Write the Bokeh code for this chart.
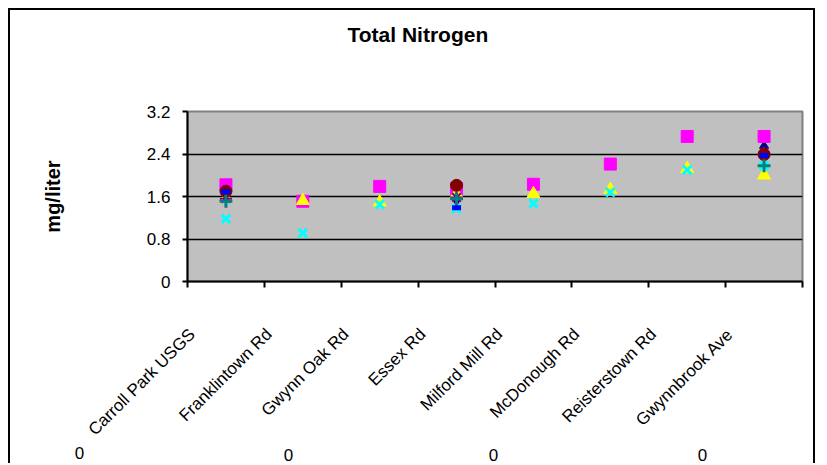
from math import pi
from bokeh.plotting import figure
from bokeh.models import ColumnDataSource, FixedTicker, Range1d, LinearAxis, Label
from bokeh.embed import file_html
from bokeh.resources import INLINE

nan = float("nan")

categories = ["Carroll Park USGS", "Franklintown Rd", "Gwynn Oak Rd", "Essex Rd",
              "Milford Mill Rd", "McDonough Rd", "Reisterstown Rd", "Gwynnbrook Ave"]

series_1 = [1.66, nan, nan, 1.55, nan, nan, nan, 2.52]    # navy diamond
series_2 = [1.82, 1.51, 1.79, 1.75, 1.83, 2.21, 2.73, 2.73]  # magenta square
series_3 = [1.56, 1.52, 1.49, 1.64, 1.65, 1.73, 2.12, 2.00]  # yellow triangle
series_4 = [1.18, 0.91, 1.45, 1.37, 1.47, 1.68, 2.10, 2.18]  # cyan x
series_5 = [1.56, nan, nan, 1.58, nan, nan, nan, 2.43]    # purple star
series_6 = [1.70, nan, nan, 1.81, nan, nan, nan, 2.39]    # dark red circle
series_7 = [1.51, nan, nan, 1.56, nan, nan, nan, 2.18]    # teal plus
series_8 = [1.69, nan, nan, 1.39, nan, nan, nan, 2.37]    # blue dash

y_ticks = [0, 0.8, 1.6, 2.4, 3.2]
y_tick_labels = ["0", "0.8", "1.6", "2.4", "3.2"]
bottom_texts = ["0", "0", "0", "0"]   # partly visible legend texts at the bottom edge

title_text = "Total Nitrogen"
y_title = "mg/liter"

xpos = [i + 0.5 for i in range(len(categories))]
label_shift = -0.44  # rotated labels sit left of the slot centre

p = figure(width=807, height=455, x_range=Range1d(0, len(categories)), y_range=Range1d(0, 3.2),
           output_backend="svg", toolbar_location=None,
           min_border_left=177, min_border_right=15, min_border_top=101, min_border_bottom=184)
p.styles = {"margin-left": "8px", "margin-top": "8px",
            "border-left": "2px solid black", "border-top": "2px solid black",
            "border-right": "2px solid black"}
p.background_fill_color = "#C0C0C0"
p.border_fill_color = "white"
p.outline_line_color = "#808080"
p.outline_line_width = 2

# two empty trailing lines lift the title well above the plot area
p.title.text = title_text + "\n\n"
p.title.align = "left"
p.title.offset = 160
p.title.standoff = 10
p.title.text_line_height = 1.31
p.title.text_font = "Liberation Sans"
p.title.text_font_size = "21px"
p.title.text_font_style = "bold"
p.title.text_color = "black"

p.xgrid.grid_line_color = None
p.ygrid.ticker = FixedTicker(ticks=y_ticks)
p.ygrid.grid_line_color = "black"
p.ygrid.grid_line_width = 1.5

p.yaxis.ticker = FixedTicker(ticks=y_ticks)
p.yaxis.major_label_overrides = {t: l for t, l in zip(y_ticks, y_tick_labels)}
p.yaxis.axis_line_width = 2
p.yaxis.axis_line_color = "black"
p.yaxis.major_tick_line_width = 2
p.yaxis.major_tick_out = 5
p.yaxis.major_tick_in = 0
p.yaxis.minor_tick_line_color = None
p.yaxis.major_label_text_font = "Liberation Sans"
p.yaxis.major_label_text_font_size = "17px"
p.yaxis.major_label_text_color = "black"
p.yaxis.major_label_standoff = 12
p.yaxis.axis_label = y_title
p.yaxis.axis_label_text_font = "Liberation Sans"
p.yaxis.axis_label_text_font_style = "bold"
p.yaxis.axis_label_text_font_size = "20px"
p.yaxis.axis_label_text_color = "black"
p.yaxis.axis_label_standoff = 80

label_ticks = [x + label_shift for x in xpos]
p.xaxis.ticker = FixedTicker(ticks=label_ticks, minor_ticks=list(range(len(categories) + 1)))
p.xaxis.major_label_overrides = {x: c for x, c in zip(label_ticks, categories)}
p.xaxis.major_label_orientation = pi / 4
p.xaxis.axis_line_width = 2
p.xaxis.axis_line_color = "black"
p.xaxis.major_tick_line_color = None
p.xaxis.minor_tick_line_color = "black"
p.xaxis.minor_tick_line_width = 2
p.xaxis.minor_tick_in = 0
p.xaxis.minor_tick_out = 6
p.xaxis.major_label_text_font = "Liberation Sans"
p.xaxis.major_label_text_font_size = "17px"
p.xaxis.major_label_text_color = "black"
p.xaxis.major_label_standoff = 44

src = ColumnDataSource(dict(x=xpos, s1=series_1, s2=series_2, s3=series_3, s4=series_4,
                            s5=series_5, s6=series_6, s7=series_7, s8=series_8))

p.scatter("x", "s1", source=src, marker="diamond", size=13, fill_color="#000080", line_color="#000080")
p.scatter("x", "s2", source=src, marker="square", size=12, fill_color="#FF00FF", line_color="#FF00FF")
p.scatter("x", "s3", source=src, marker="triangle", size=13, fill_color="#FFFF00", line_color="#FFFF00")
p.scatter("x", "s4", source=src, marker="x", size=12, line_color="#00FFFF", line_width=3)
p.scatter("x", "s5", source=src, marker="asterisk", size=12, line_color="#800080", line_width=2)
p.scatter("x", "s6", source=src, marker="circle", size=12, fill_color="#800000", line_color="#800000")
p.scatter("x", "s7", source=src, marker="cross", size=13, line_color="#008080", line_width=3)
p.scatter("x", "s8", source=src, marker="dash", size=9, line_color="#0000FF", line_width=5)

# cut-off legend texts along the bottom edge, placed in page-pixel helper ranges
p.extra_x_ranges = {"page": Range1d(187, 802)}
p.extra_y_ranges = {"page_y": Range1d(281, 111)}
zero_pos = [79, 288, 493, 702]
zero_axis = LinearAxis(x_range_name="page", ticker=FixedTicker(ticks=zero_pos[1:]), bounds=(0, 827),
                       major_label_overrides={z: t for z, t in zip(zero_pos[1:], bottom_texts[1:])},
                       axis_line_color=None, major_tick_line_color=None, minor_tick_line_color=None,
                       major_tick_out=0, major_tick_in=0, major_label_standoff=0,
                       major_label_text_font="Liberation Sans", major_label_text_font_size="17px",
                       major_label_text_color="black")
p.add_layout(zero_axis, "below")

# the first one lies left of the plot area, so it is a label in the left panel
p.add_layout(Label(x=zero_pos[0], y=452, x_range_name="page", y_range_name="page_y",
                   text=bottom_texts[0], text_align="center", text_baseline="alphabetic",
                   text_font="Liberation Sans", text_font_size="17px", text_color="black"), "left")

open("out.html", "w").write(file_html(p, INLINE))
